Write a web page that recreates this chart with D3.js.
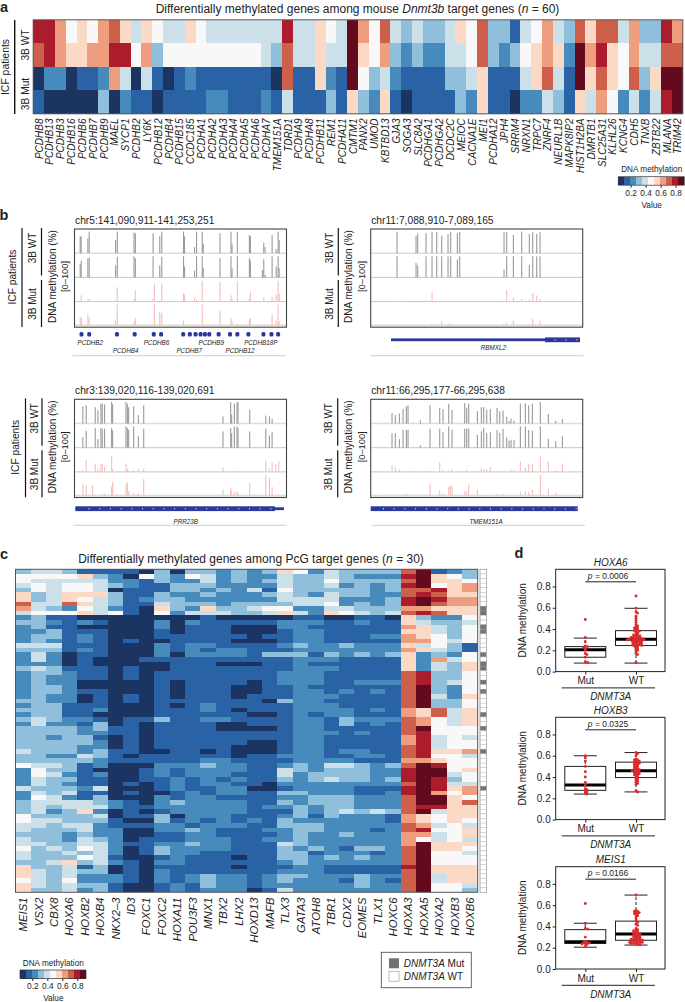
<!DOCTYPE html>
<html><head><meta charset="utf-8">
<script src="https://cdn.jsdelivr.net/npm/d3@7"></script>
<style>html,body{margin:0;padding:0;background:#fff}svg{display:block}text{font-family:"Liberation Sans",Arial,sans-serif;fill:#222}</style>
</head><body><svg id="c" width="685" height="1002"></svg>
<script>
// ---------- panel a ----------
const geneA=["PCDHB8","PCDHB13","PCDHB3","PCDHB16","PCDHB6","PCDHB7","PCDHB9","MAEL","SYCP1","PCDHB2","LY6K","PCDHB12","PCDHB4","PCDHB15","CCDC185","PCDHA1","PCDHA2","PCDHA3","PCDHA4","PCDHA5","PCDHA6","PCDHA7","TMEM151A","TDRD1","PCDHA9","PCDHA8","PCDHB11","REM1","PCDHA11","CMTM1","PANX2","UMOD","KBTBD13","GJA3","SOGA3","SLC8A2","PCDHGA1","PCDHGA2","DCDC2C","MEIOC","CACNA1E","MEI1","PCDHA12","JPH4","SRRM4","NRXN1","TRPC7","ZNRF4","NEURL1B","MAPK8IP2","HIST1H2BA","DMRTB1","SLC25A31","KLHL26","KCNG4","CDH5","TNXB","ZBTB22","MLANA","TRIM42"];
const levelsA=[
"99756 57864 65446 54444 44494 4654a 75843 43346 58331 45743 86884 73397",
"89766 77995 73555 55555 54384 4644a 65732 32244 58323 56762 a7965 74488",
"02201 12740 41012 11111 11081 1621a 53421 11133 46111 46841 a6865 836aa",
"10000 03021 10111 12211 12141 11316 32610 11113 26110 22431 64752 4249a"];
// ---------- panel c ----------
const geneC=["MEIS1","VSX2","CBX8","HOXA6","HOXB2","HOXB4","NKX2\u20133","ID3","FOXC1","FOXC2","HOXA11","POU3F3","MNX1","TBX2","LHX2","HOXD13","MAFB","TLX3","GATA3","ATOH8","TBR1","CDX2","EOMES","TLX1","HOXC6","HOXA3","HOXA5","HOXA2","HOXB3","HOXB6"];
const levelsC=[
"34431 11103 03323 23652 43333 8a123","55556 32053 25423 22433 43222 9a653","54444 42213 22423 23433 53333 8a665",
"45455 43211 33322 22433 42323 9a567","35455 40111 33232 41533 33323 88967","63466 63113 22322 23432 43322 89866",
"63465 43123 32222 22444 42223 9a977","84486 43114 33323 33344 52323 9a877","74325 42106 32633 45522 44333 77666",
"45556 45105 24443 34642 65434 89866","23110 00000 00100 00011 00110 63225","33212 10002 02111 11222 11211 64334",
"23110 00002 01110 00221 11111 76435","22311 10001 01110 00122 11111 66435","23312 10001 11111 01122 11122 76535",
"23212 10100 11110 00122 11111 77545","44411 10002 12211 11232 23222 64531","33312 10002 12122 11122 22222 76431",
"24201 10002 02222 13331 32323 62325","24201 00011 11111 11122 21111 62745","22201 00000 11100 01121 11111 62436",
"34311 10100 11111 11122 21111 62436","23321 10101 11111 11222 11111 89335","23221 10101 11111 11222 11111 89335",
"23220 00001 01111 01222 11222 89345","23320 00001 01110 01121 11111 8a325","23321 10001 01110 01122 12121 8a325",
"23220 10101 01110 11122 21111 8a426","33220 10101 11111 10322 11111 8a335","23311 10001 01211 11122 21111 8a335",
"33311 20001 11210 11122 22121 76846","23311 00001 11111 00121 22111 76846","34322 10113 11221 11122 13222 87546",
"24221 30101 11100 11122 13121 87546","33332 31101 11100 00122 11111 8a555","33332 21101 11111 11122 21211 89555",
"33233 10101 11111 11122 11111 79454","33333 20101 11111 00122 11111 79455","33332 20101 11110 00122 11111 89455",
"43332 31100 11010 00122 12211 89667","33224 31011 11110 11222 11221 89554","33333 21111 11221 11122 22111 77655",
"54431 20002 22322 11232 44323 8a955","25331 00012 12222 11432 33322 9aa56","25421 20012 12221 11423 33322 9aa45",
"24331 10011 21212 11323 43323 9a935","24321 10101 21221 10222 22222 8a944","43332 40001 21122 00122 22111 9a967",
"24341 10100 12122 11332 22112 9a757","25421 30002 12211 11223 33222 8aa65","34444 32102 32222 11323 33222 8aa68",
"34344 42112 22222 12232 33222 89966","34236 20101 22222 11132 34343 8a466","53333 40113 02221 11231 32221 76566",
"54433 31003 12121 21322 22221 76565","44344 21112 21222 11333 22222 87454","43334 22002 23211 12233 22212 89556",
"33323 22001 12211 11232 23222 77456","43324 32011 12221 12232 22222 75454","44334 42112 23221 11432 22222 7a666",
"53435 42013 22221 11323 21332 8a665","43343 42013 22111 11331 22212 8a554","43335 41001 21110 11332 32322 8a555",
"33463 42102 21111 11232 22222 8a555","63341 30101 11110 11122 11111 9a666","64343 30102 11111 11222 11111 8a666",
"64342 22102 12322 12332 22322 8a466","54352 22102 12322 12322 21321 8a466","64343 31001 21322 12222 22322 8a554",
"63342 31001 21222 01422 22222 8a553"];
const mutRows=[8,9,12,13,18,20,21,24,26,31,34,39,47];
const palette=["#1c3461","#2a62a6","#468bbc","#8fbfda","#cce0ea","#f8f8f8","#fcd9c4","#ee9e7e","#cd5f4b","#ab1c2c","#640a1e"];
const legendTicks=[0.2,0.4,0.6,0.8];
// ---------- panel b (position, % methylation) ----------
const titlesB=["chr5:141,090,911-141,253,251","chr11:7,088,910-7,089,165","chr3:139,020,116-139,020,691","chr11:66,295,177-66,295,638"];
const t1wt1=[[240,70],[243,70],[263,62],[267,90],[346,55],[351,90],[401,86],[405,83],[458,83],[478,70],[484,90],[549,90],[552,70],[582,25],[588,90],[605,90],[608,40],[658,83],[691,90],[694,40],[710,90],[746,76],[749,70],[789,44],[793,25],[814,76],[826,17],[832,90],[835,55]];
const t1wt2=[[240,55],[243,70],[263,80],[267,82],[346,50],[351,86],[401,88],[405,80],[458,88],[478,50],[484,86],[549,88],[552,45],[582,28],[588,88],[605,88],[608,38],[658,80],[691,88],[694,38],[710,88],[746,80],[749,70],[785,30],[789,76],[793,10],[814,88],[826,45],[832,88],[835,38]];
const t1mu1=[[243,27],[263,6],[267,12],[346,5],[351,60],[401,12],[405,47],[458,12],[462,75],[478,6],[484,75],[549,36],[552,30],[582,17],[588,8],[605,86],[658,82],[691,27],[694,12],[710,86],[746,12],[749,43],[789,17],[814,20],[826,30],[832,86],[835,33]];
const t1mu2=[[240,35],[244,30],[263,45],[267,30],[346,20],[351,86],[401,17],[405,30],[458,5],[462,86],[478,55],[484,50],[549,20],[582,4],[605,86],[658,62],[691,30],[694,17],[710,4],[746,24],[749,30],[789,3],[814,45],[826,20],[832,86],[835,17]];
const t2wt1=[[171,90],[228,72],[233,83],[258,83],[276,90],[290,88],[305,72],[324,80],[332,88],[352,83],[359,88],[492,88],[500,88],[520,76],[545,90],[568,80],[578,88],[590,80],[600,88]];
const t2wt2=[[171,88],[228,60],[233,50],[258,88],[276,88],[290,88],[305,88],[324,88],[332,88],[352,75],[359,88],[492,33],[500,88],[520,88],[545,88],[568,52],[578,88],[590,88],[600,88]];
const t2mu1=[[171,2],[228,6],[258,6],[276,40],[492,4],[500,47],[520,17],[545,11],[568,8],[578,36],[590,26],[600,11]];
const t2mu2=[[276,8],[290,4],[305,15],[324,5],[332,8],[352,4],[359,4],[492,8],[500,12],[520,20],[568,5],[578,26],[600,20]];
const t3wt1=[[248,72],[258,76],[285,68],[293,55],[302,83],[306,82],[313,80],[334,89],[337,80],[377,89],[381,83],[385,68],[400,72],[414,35],[430,76],[667,30],[690,89],[693,37],[701,83],[709,89],[712,89],[747,58],[795,33],[806,30],[814,20]];
const t3wt2=[[248,44],[258,70],[285,82],[293,36],[302,82],[306,79],[313,79],[334,82],[337,72],[377,89],[381,82],[385,75],[400,89],[414,47],[430,79],[667,68],[690,82],[693,60],[701,89],[709,89],[712,82],[747,68],[795,79],[806,51],[814,64]];
const t3mu1=[[248,6],[258,50],[285,35],[293,15],[302,32],[306,32],[313,22],[334,68],[337,12],[377,35],[381,12],[385,4],[400,8],[414,11],[430,14],[667,18],[690,3],[701,4],[712,5],[795,47],[806,14],[814,43],[825,32],[834,43]];
const t3mu2=[[248,47],[258,43],[277,43],[305,7],[313,7],[334,37],[337,58],[377,50],[381,54],[385,19],[400,10],[414,10],[430,69],[667,25],[690,33],[693,19],[701,15],[709,17],[712,11],[747,53],[795,86],[806,75],[814,36]];
const t4wt1=[[156,44],[166,35],[178,42],[189,61],[199,72],[204,76],[241,14],[270,76],[299,65],[309,60],[326,82],[336,57],[374,85],[380,65],[386,82],[412,51],[424,68],[431,68],[440,58],[451,60],[471,65],[479,51],[489,54],[500,28],[507,10],[513,21],[522,12],[541,83],[556,83],[566,76],[577,82],[601,89],[625,40],[647,12],[667,19]];
const t4wt2=[[156,60],[166,60],[178,36],[189,75],[199,75],[204,74],[241,10],[270,79],[299,79],[309,65],[326,89],[336,75],[374,79],[380,80],[386,80],[412,54],[424,68],[431,82],[440,61],[451,64],[471,74],[479,62],[489,79],[500,43],[507,29],[513,32],[522,32],[541,89],[556,89],[566,74],[577,71],[601,89],[625,37],[647,26],[667,47]];
const t4mu1=[[156,28],[166,19],[178,10],[204,6],[270,5],[299,40],[309,7],[326,6],[336,10],[380,8],[412,3],[424,15],[431,10],[440,11],[451,19],[512,10],[522,10],[541,43],[556,18],[566,35],[577,33],[601,64],[625,43],[647,6],[667,35]];
const t4mu2=[[156,7],[189,5],[199,5],[204,7],[241,4],[270,51],[299,22],[309,10],[326,36],[331,40],[336,42],[374,18],[380,17],[386,46],[412,25],[424,3],[431,3],[471,5],[489,8],[541,17],[556,19],[566,14],[577,25],[601,86],[625,30],[647,11]];
const exons1=[244,267,350,403,460,482,548,568,585,600,613,626,654,688,710,743,788,812,832];
const geneLabels1=[["PCDHB2",270,0],["PCDHB4",376,1],["PCDHB6",468,0],["PCDHB7",566,1],["PCDHB9",632,0],["PCDHB12",718,1],["PCDHB18P",780,0]];
// ---------- panel d ----------
const boxGenes=["HOXA6","HOXB3","MEIS1"];
const boxP=["0.0006","0.0325","0.0166"];
const boxCats=["Mut","WT"];
const yTicks=[0,0.2,0.4,0.6,0.8];
const mutA6=[.49,.32,.28,.24,.235,.23,.22,.2,.17,.16,.135,.09,.085];
const wtA6=[.71,.595,.56,.55,.52,.5,.48,.46,.44,.43,.42,.41,.41,.4,.39,.385,.38,.37,.36,.35,.345,.34,.335,.33,.325,.32,.32,.315,.31,.31,.305,.305,.3,.3,.3,.295,.29,.29,.285,.28,.28,.275,.27,.27,.265,.26,.26,.255,.25,.25,.245,.24,.24,.23,.22,.21,.2,.19,.17,.16,.085];
const mutB3=[.6,.58,.55,.5,.45,.4,.35,.32,.29,.28,.27,.26,.25,.24];
const wtB3=[.63,.62,.6,.57,.56,.56,.55,.55,.54,.54,.53,.53,.52,.52,.51,.5,.5,.49,.48,.48,.47,.47,.46,.46,.46,.45,.45,.44,.44,.43,.43,.42,.42,.41,.4,.39,.38,.37,.36,.35,.34,.33,.27,.26];
const mutM1=[.615,.43,.38,.375,.3,.26,.25,.25,.245,.24,.235,.23,.21];
const wtM1=[.695,.55,.54,.54,.53,.53,.52,.52,.51,.5,.49,.47,.45,.44,.42,.41,.38,.37,.36,.36,.35,.34,.34,.33,.33,.32,.32,.31,.31,.3,.3,.29,.29,.28,.28,.28,.27,.27,.27,.26,.26,.26,.25,.25,.25,.25,.24,.24,.24,.23,.23];
// [lower whisker, q1, median, q3, upper whisker]
const statsA6=[[.08,.135,.205,.235,.315],[.08,.245,.305,.385,.595]];
const statsB3=[[.24,.275,.325,.5,.6],[.26,.395,.46,.54,.63]];
const statsM1=[[.205,.24,.255,.37,.43],[.225,.27,.33,.45,.695]];

// ---------- drawing ----------
const svg=d3.select("#c");
const INK="#222";
function txt(x,y,s,o={}){
  const t=svg.append("text").attr("x",x).attr("y",y).attr("font-size",o.size||10)
    .attr("text-anchor",o.anchor||"middle").attr("dominant-baseline","central");
  if(o.italic)t.attr("font-style","italic");
  if(o.weight)t.attr("font-weight",o.weight);
  if(o.rot)t.attr("transform",`rotate(${o.rot} ${x} ${y})`);
  (Array.isArray(s)?s:[[s,o.italic]]).forEach(([a,i])=>t.append("tspan").text(a).attr("font-style",i?"italic":"normal"));
  return t;
}
function vline(x,y1,y2,w=1.2){svg.append("line").attr("x1",x).attr("x2",x).attr("y1",y1).attr("y2",y2).attr("stroke","#111").attr("stroke-width",w);}
function hline(x1,x2,y,c="#111",w=1){svg.append("line").attr("x1",x1).attr("x2",x2).attr("y1",y).attr("y2",y).attr("stroke",c).attr("stroke-width",w);}
const parseRow=s=>s.replace(/ /g,"").split("").map(ch=>parseInt(ch,16));
const DOM=[0.036,0.916];
const step=(DOM[1]-DOM[0])/palette.length;
const toValue=k=>DOM[0]+(k+.5)*step;
const color=d3.scaleQuantize().domain(DOM).range(palette);

function heat(rows,genes,x0,x1,y0,y1,labSize,labTop){
  const x=d3.scaleBand().domain(genes).range([x0,x1]);
  const y=d3.scaleBand().domain(d3.range(rows.length)).range([y0,y1]);
  const g=svg.append("g");
  rows.forEach((r,i)=>{
    g.selectAll(null).data(parseRow(r).map((k,j)=>({g:genes[j],v:toValue(k)}))).join("rect")
      .attr("x",d=>x(d.g)).attr("y",y(i)).attr("width",x.bandwidth()).attr("height",y.bandwidth())
      .attr("fill",d=>color(d.v)).attr("shape-rendering","crispEdges");
  });
  svg.append("rect").attr("x",x0).attr("y",y0).attr("width",x1-x0).attr("height",y1-y0).attr("fill","none").attr("stroke","#555").attr("stroke-width",1);
  genes.forEach(n=>txt(x(n)+x.bandwidth()/2,labTop,n,{size:labSize,italic:true,anchor:"end",rot:-90}));
}
function legend(x0,y0,cx){
  const x=d3.scaleLinear().domain(DOM).range([x0,x0+66]);
  txt(cx,y0-7.5,"DNA methylation",{size:8.2});
  svg.append("g").selectAll("rect").data(palette).join("rect")
    .attr("x",(d,i)=>x(DOM[0]+i*step)).attr("y",y0).attr("width",6.05).attr("height",8.5).attr("fill",d=>d).attr("shape-rendering","crispEdges");
  svg.append("rect").attr("x",x0).attr("y",y0).attr("width",66).attr("height",8.5).attr("fill","none").attr("stroke","#333").attr("stroke-width",.7);
  const ax=svg.append("g").attr("transform",`translate(0,${y0+8.5})`).call(d3.axisBottom(x).tickValues(legendTicks).tickSize(2.5).tickPadding(2).tickFormat(d3.format(".1f")));
  ax.select(".domain").remove();
  ax.selectAll("text").attr("font-size",8.3).attr("font-family",'"Liberation Sans"').attr("fill",INK);
  ax.selectAll("line").attr("stroke","#222");
  txt(cx,y0+28,"Value",{size:8.2});
}

// panel letters
[["a",4,7],["b",4,215],["c",4,554],["d",519,553]].forEach(([l,x,y])=>txt(x,y,l,{size:14.5,weight:"bold"}));

// ---- a
txt(357.5,9,[["Differentially methylated genes among mouse ",0],["Dnmt3b",1],[" target genes (",0],["n",1],[" = 60)",0]],{size:12});
heat(levelsA,geneA,33.2,682.8,19.8,113.8,10,118.5);
vline(14.7,20,114,1.4);
txt(4.5,67,"ICF patients",{size:10.4,rot:-90});
txt(24.5,45,"3B WT",{size:10.2,rot:-90});
txt(24.5,94,"3B Mut",{size:10.2,rot:-90});
legend(618.3,176.7,651.7);

// ---- b
const GREY="#9a9a9a",PINK="#f6bdbd",BLUE="#2b379c";
function tracks(x0,y0,dom,title,sets,lineX,textX,icfX,dnaX){
  const H=98.2,x1=x0+212;
  const x=d3.scaleLinear().domain(dom).range([x0,x1]);
  txt(x0+.5,y0-9.3,title,{size:10.25,anchor:"start"});
  sets.forEach((set,i)=>{
    const base=y0+24.2*(i+1)+(i==3?-.5:0);
    const y=d3.scaleLinear().domain([0,100]).range([base,base-24]);
    hline(x0,x1,base,i==1||i==2?"#c8c8c8":"#dcdcdc",i==1||i==2?1:1.6);
    svg.append("g").selectAll("rect").data(set).join("rect")
      .attr("x",d=>x(d[0])-.55).attr("width",1.1).attr("y",d=>y(d[1])).attr("height",d=>y(0)-y(d[1]))
      .attr("fill",i<2?GREY:PINK);
  });
  svg.append("rect").attr("x",x0).attr("y",y0).attr("width",212).attr("height",H).attr("fill","none").attr("stroke","#444").attr("stroke-width",1.1);
  const sy0=y0-1,sy1=y0+98;
  vline(lineX,sy0,y0+46.5); vline(lineX,y0+51,sy1);
  txt(textX,y0+19,"3B WT",{size:10,rot:-90});
  txt(textX,y0+75,"3B Mut",{size:10,rot:-90});
  if(icfX){vline(icfX+10,sy0,sy1,1.2);txt(icfX,y0+48,"ICF patients",{size:10.2,rot:-90});}
  txt(dnaX,y0+47.5,"DNA methylation (%)",{size:10,rot:-90});
  txt(dnaX+13.3,y0+47.5,"[0\u2013100]",{size:9.3,rot:-90});
  return x;
}
const xb1=tracks(74.5,229,[223,857],titlesB[0],[t1wt1,t1wt2,t1mu1,t1mu2],41.5,32,12,51.7);
const xb2=tracks(370.7,229,[92,728],titlesB[1],[t2wt1,t2wt2,t2mu1,t2mu2],338.3,328.5,0,348.3);
const xb3=tracks(74.5,399.3,[223,857],titlesB[2],[t3wt1,t3wt2,t3mu1,t3mu2],42,34.2,15.5,51.7);
const xb4=tracks(370.7,399.3,[92,728],titlesB[3],[t4wt1,t4wt2,t4mu1,t4mu2],337.7,328.5,0,348.3);
// gene models
svg.append("g").selectAll("rect").data(exons1).join("rect").attr("x",d=>xb1(d)-2).attr("width",4).attr("y",332).attr("height",4.6).attr("rx",1.5).attr("fill",BLUE);
geneLabels1.forEach(([n,p,lvl])=>txt(xb1(p),342+lvl*8,n,{size:6.3,italic:true}));
hline(72.3,285.7,355.7,"#d6d6e2",1.2);
function geneModel(a,b,thin,y,name,nameX,nameY,ruleA,ruleB,ruleY,dots){
  if(thin)svg.append("rect").attr("x",thin[0]).attr("width",thin[1]-thin[0]).attr("y",y-1.4).attr("height",2.8).attr("fill",BLUE);
  svg.append("rect").attr("x",a).attr("width",b-a).attr("y",y-2.4).attr("height",4.8).attr("fill",BLUE);
  svg.append("g").selectAll("rect").data(dots).join("rect").attr("x",d=>d-.5).attr("width",1).attr("y",y-.6).attr("height",1.2).attr("fill","#dfe3f5");
  txt(nameX,nameY,name,{size:6.3,italic:true});
  hline(ruleA,ruleB,ruleY,"#d6d6e2",1.2);
}
geneModel(545,580,[391,545],339.8,"RBMXL2",493.3,347,370.7,583.7,355.7,[555,566,577]);
geneModel(75.3,275,[275,284],508.7,"PRR23B",185.7,521,73.3,286.7,525.3,d3.range(89,275,10.7));
geneModel(370.7,577.7,null,508.7,"TMEM151A",486,521,371.7,585,525.3,d3.range(383.5,577,10.7));

// ---- c
txt(251,559,[["Differentially methylated genes among PcG target genes (",0],["n",1],[" = 30)",0]],{size:12});
heat(levelsC,geneC,15.5,477.7,569.3,892.3,11.3,897.5);
const yAnn=d3.scaleBand().domain(d3.range(levelsC.length)).range([569.3,892.3]);
svg.append("g").selectAll("rect").data(d3.range(levelsC.length)).join("rect")
  .attr("x",480).attr("width",6.6).attr("y",d=>yAnn(d)).attr("height",yAnn.bandwidth())
  .attr("fill",d=>mutRows.includes(d)?"#757575":"#fff").attr("stroke",d=>mutRows.includes(d)?"none":"#bdbdbd").attr("stroke-width",.5);
svg.append("rect").attr("x",480).attr("y",569.3).attr("width",6.6).attr("height",323).attr("fill","none").attr("stroke","#aaa").attr("stroke-width",.8);
legend(20,970,53.3);
svg.append("rect").attr("x",381.3).attr("y",952.3).attr("width",90).attr("height",35.4).attr("fill","#fff").attr("stroke","#555").attr("stroke-width",.9);
svg.append("rect").attr("x",389).attr("y",958.3).attr("width",10).attr("height",10).attr("fill","#707070");
svg.append("rect").attr("x",389).attr("y",971.3).attr("width",10).attr("height",10).attr("fill","#fff").attr("stroke","#bbb");
txt(403.7,963.3,[["DNMT3A",1],[" Mut",0]],{size:10,anchor:"start"});
txt(403.7,976.3,[["DNMT3A",1],[" WT",0]],{size:10,anchor:"start"});

// ---- d
function swarm(vals,y,r){
  const placed=[];
  return vals.slice().sort(d3.descending).map(v=>{
    const py=y(v);let k=0,off=0;
    for(;;){
      off=(k%2?1:-1)*Math.ceil(k/2)*0.8;
      if(!placed.some(p=>Math.hypot(p[0]-off,p[1]-py)<r))break;
      k++;
    }
    placed.push([off,py]);
    return [off,py];
  });
}
function boxPlot(i,top,mut,wt,stats){
  const L=555.7,R=665,B=top+102.3;
  const y=d3.scaleLinear().domain([0,102.3/106.4]).range([B,top]);
  const x=d3.scalePoint().domain(boxCats).range([585.3,636]);
  txt(610.7,top-7.5,boxGenes[i],{size:10,italic:true});
  svg.append("rect").attr("x",L).attr("y",top).attr("width",R-L).attr("height",B-top).attr("fill","none").attr("stroke","#222").attr("stroke-width",1);
  txt(608,top+6.7,[["p",1],[" = "+boxP[i],0]],{size:8.5});
  hline(585.3,636,top+12.5,"#222",1);
  const yg=svg.append("g").attr("transform",`translate(${L},0)`).call(d3.axisLeft(y).tickValues(yTicks).tickSize(3).tickPadding(2).tickFormat(d3.format(".1f")));
  yg.select(".domain").remove();
  yg.selectAll("text").attr("font-size",10).attr("font-family",'"Liberation Sans"').attr("fill",INK);
  yg.selectAll("line").attr("stroke","#222");
  const xg=svg.append("g").attr("transform",`translate(0,${B})`).call(d3.axisBottom(x).tickSize(3).tickPadding(2.5));
  xg.select(".domain").remove();
  xg.selectAll("text").attr("font-size",10).attr("font-family",'"Liberation Sans"').attr("fill",INK);
  xg.selectAll("line").attr("stroke","#222");
  hline(561.7,655,B+16.3,"#222",1);
  txt(610.7,B+24.5,"DNMT3A",{size:10,italic:true});
  txt(522.3,top+51,"DNA methylation",{size:10,rot:-90});
  boxCats.forEach((c,j)=>{
    const [lo,q1,med,q3,hi]=stats[j],cx=x(c);
    svg.append("line").attr("x1",cx).attr("x2",cx).attr("y1",y(lo)).attr("y2",y(hi)).attr("stroke","#222").attr("stroke-width",1).attr("stroke-dasharray","3 2");
    [lo,hi].forEach(v=>hline(cx-11.5,cx+11.5,y(v),"#222",1));
    svg.append("rect").attr("x",cx-20.5).attr("width",41).attr("y",y(q3)).attr("height",y(q1)-y(q3)).attr("fill","#fff").attr("stroke","#222").attr("stroke-width",1);
    hline(cx-20.5,cx+20.5,y(med),"#000",3);
    svg.append("g").selectAll("circle").data(swarm(j?wt:mut,y,1.9)).join("circle")
      .attr("cx",d=>cx+d[0]).attr("cy",d=>d[1]).attr("r",1.45).attr("fill","#dd2a2c");
  });
}
boxPlot(0,569.3,mutA6,wtA6,statsA6);
boxPlot(1,717.3,mutB3,wtB3,statsB3);
boxPlot(2,866.7,mutM1,wtM1,statsM1);
</script></body></html>
